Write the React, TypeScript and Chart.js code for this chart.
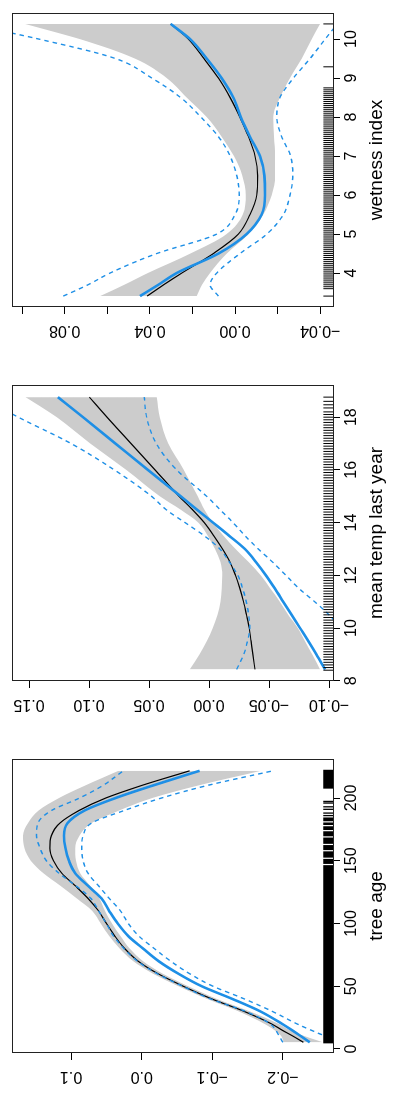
import React, { useEffect, useRef } from "react";
import { Chart, registerables } from "chart.js";

Chart.register(...registerables);

const FONT = "'Liberation Sans', Arial, Helvetica, sans-serif";
const BLUE = "#1E8FE6";
const GRAY = "#CCCCCC";

// ---------- panel 1: tree age ----------
const AGE = [5.3, 10, 15, 20, 30, 40, 50, 60, 70, 80, 90, 100, 110, 120, 130, 140, 150, 160, 170, 180, 190, 200, 210, 221.7];
const AGE_FIT = [-0.229, -0.215, -0.199, -0.184, -0.145, -0.099, -0.059, -0.023, 0.005, 0.024, 0.038, 0.05, 0.061, 0.076, 0.094, 0.113, 0.125, 0.13, 0.128, 0.116, 0.089, 0.051, 0.0, -0.068];
const AGE_HI = [-0.201, -0.198, -0.188, -0.174, -0.137, -0.092, -0.052, -0.016, 0.012, 0.031, 0.046, 0.058, 0.07, 0.092, 0.115, 0.139, 0.157, 0.166, 0.168, 0.161, 0.146, 0.117, 0.08, 0.033];
const AGE_LO = [-0.257, -0.232, -0.21, -0.194, -0.153, -0.106, -0.066, -0.03, -0.002, 0.017, 0.03, 0.042, 0.052, 0.06, 0.073, 0.087, 0.093, 0.094, 0.088, 0.071, 0.032, -0.015, -0.08, -0.169];
const AGE_BLUE = [-0.238, -0.226, -0.213, -0.199, -0.168, -0.128, -0.085, -0.052, -0.024, -0.002, 0.019, 0.034, 0.046, 0.057, 0.076, 0.094, 0.103, 0.108, 0.11, 0.105, 0.081, 0.037, -0.016, -0.082];
const AGE_BLUE_HI = [-0.2, -0.195, -0.19, -0.182, -0.147, -0.097, -0.058, -0.022, 0.006, 0.025, 0.04, 0.05, 0.061, 0.072, 0.093, 0.117, 0.135, 0.144, 0.149, 0.147, 0.128, 0.088, 0.055, 0.026];
const AGE_BLUE_LO = [-0.29, -0.262, -0.24, -0.22, -0.185, -0.145, -0.101, -0.068, -0.041, -0.018, 0.004, 0.019, 0.03, 0.046, 0.061, 0.076, 0.083, 0.085, 0.083, 0.071, 0.025, -0.028, -0.093, -0.186];
const AGE_RUG = [5, 6, 7, 8, 9, 10, 11, 12, 13, 14, 15, 16, 17, 18, 19, 20, 21, 22, 23, 24, 25, 26, 27, 28, 29, 30, 31, 32, 33, 34, 35, 36, 37, 38, 39, 40, 41, 42, 43, 44, 45, 46, 47, 48, 49, 50, 51, 52, 53, 54, 55, 56, 57, 58, 59, 60, 61, 62, 63, 64, 65, 66, 67, 68, 69, 70, 71, 72, 73, 74, 75, 76, 77, 78, 79, 80, 81, 82, 83, 84, 85, 86, 87, 88, 89, 90, 91, 92, 93, 94, 95, 96, 97, 98, 99, 100, 101, 102, 103, 104, 105, 106, 107, 108, 109, 110, 111, 112, 113, 114, 115, 116, 117, 118, 119, 120, 121, 122, 123, 124, 125, 126, 127, 128, 129, 130, 131, 132, 133, 134, 135, 136, 137, 138, 139, 140, 141, 142, 143, 144, 145, 146, 148, 149, 150, 151, 153, 154, 155, 156, 157, 159, 160, 161, 162, 164, 165, 166, 167, 168, 170, 171, 172, 173, 175, 176, 177, 179, 180, 182, 183, 184, 186, 188, 191, 193, 196, 197.3, 208, 209, 210, 211, 212, 213, 214, 215, 216, 217, 218, 219, 220, 221, 222];
const AGE_XTICKS = [0, 50, 100, 150, 200];
const AGE_XLABELS = ["0", "50", "100", "150", "200"];
const AGE_YTICKS = [-0.2, -0.1, 0, 0.1];
const AGE_YLABELS = ["\u22120.2", "\u22120.1", "0.0", "0.1"];

// ---------- panel 2: mean temp last year ----------
const TEMP = [8.43, 9, 9.5, 10, 10.5, 11, 11.5, 12, 12.5, 13, 13.5, 14, 14.5, 15, 16, 17, 18, 18.76];
const TEMP_FIT = [-0.0383, -0.0365, -0.035, -0.0335, -0.0312, -0.0287, -0.0257, -0.022, -0.0175, -0.0112, -0.004, 0.004, 0.014, 0.025, 0.045, 0.065, 0.085, 0.0997];
const TEMP_HI = [0.016, 0.008, 0.002, -0.003, -0.007, -0.0095, -0.0106, -0.011, -0.0095, -0.005, 0.001, 0.009, 0.024, 0.041, 0.069, 0.099, 0.127, 0.153];
const TEMP_LO = [-0.0925, -0.086, -0.08, -0.074, -0.066, -0.059, -0.051, -0.043, -0.033, -0.022, -0.012, -0.003, 0.004, 0.0094, 0.021, 0.034, 0.041, 0.0436];
const TEMP_BLUE = [-0.0967, -0.0895, -0.0828, -0.0758, -0.0688, -0.0618, -0.0548, -0.0474, -0.0392, -0.0298, -0.0168, -0.0033, 0.0103, 0.0237, 0.051, 0.078, 0.105, 0.126];
const TEMP_BLUE_HI = [-0.023, -0.029, -0.032, -0.034, -0.033, -0.031, -0.028, -0.024, -0.017, -0.009, 0.004, 0.02, 0.036, 0.048, 0.079, 0.115, 0.159, 0.19];
const TEMP_BLUE_LO = [-0.145, -0.132, -0.121, -0.11, -0.1, -0.088, -0.075, -0.064, -0.053, -0.041, -0.03, -0.02, -0.009, 0.002, 0.027, 0.044, 0.052, 0.054];
const TEMP_RUG = [8.4, 8.5, 8.6, 8.7, 8.8, 8.9, 9, 9.1, 9.2, 9.3, 9.4, 9.5, 9.6, 9.7, 9.8, 9.9, 10, 10.1, 10.2, 10.3, 10.4, 10.5, 10.6, 10.7, 10.8, 10.9, 11, 11.1, 11.2, 11.3, 11.4, 11.5, 11.6, 11.7, 11.8, 11.9, 12, 12.1, 12.2, 12.3, 12.4, 12.5, 12.6, 12.7, 12.8, 12.9, 13, 13.1, 13.2, 13.3, 13.4, 13.5, 13.6, 13.7, 13.8, 13.9, 14, 14.1, 14.2, 14.3, 14.4, 14.5, 14.6, 14.7, 14.8, 14.9, 15, 15.1, 15.2, 15.3, 15.4, 15.5, 15.6, 15.7, 15.8, 15.9, 16, 16.1, 16.2, 16.3, 16.4, 16.5, 16.6, 16.7, 16.8, 16.9, 17, 17.1, 17.2, 17.3, 17.4, 17.5, 17.6, 17.7, 17.8, 17.9, 18, 18.1, 18.2, 18.35, 18.47, 18.6, 18.76];
const TEMP_XTICKS = [8, 10, 12, 14, 16, 18];
const TEMP_XLABELS = ["8", "10", "12", "14", "16", "18"];
const TEMP_YTICKS = [-0.1, -0.05, 0, 0.05, 0.1, 0.15];
const TEMP_YLABELS = ["\u22120.10", "\u22120.05", "0.00", "0.05", "0.10", "0.15"];

// ---------- panel 3: wetness index ----------
const WET = [3.41, 3.7, 4, 4.5, 5, 5.5, 6, 6.5, 7, 7.5, 8, 8.5, 9, 9.5, 10, 10.39];
const WET_FIT = [0.0413, 0.0335, 0.025, 0.0102, -0.0016, -0.007, -0.0102, -0.0106, -0.0094, -0.0063, -0.0023, 0.0023, 0.0078, 0.0146, 0.0219, 0.0302];
const WET_HI = [0.0634, 0.052, 0.041, 0.021, 0.004, -0.0036, -0.005, -0.0034, 0.0005, 0.0063, 0.0133, 0.0227, 0.032, 0.047, 0.0728, 0.0986];
const WET_LO = [0.018, 0.0155, 0.0117, 0.0039, -0.0063, -0.0133, -0.0172, -0.0188, -0.0188, -0.0183, -0.018, -0.0211, -0.0258, -0.0313, -0.036, -0.0399];
const WET_BLUE = [0.0446, 0.036, 0.0274, 0.0078, -0.0055, -0.0125, -0.0141, -0.0138, -0.0117, -0.007, -0.0027, 0.0008, 0.0063, 0.0133, 0.0211, 0.0302];
const WET_BLUE_HI = [0.0806, 0.069, 0.0587, 0.0368, 0.0086, 0.0, -0.002, -0.0008, 0.0023, 0.0078, 0.016, 0.0255, 0.039, 0.056, 0.092, 0.125];
const WET_BLUE_LO = [0.0078, 0.0117, 0.0086, -0.0023, -0.0149, -0.0227, -0.0258, -0.0271, -0.0261, -0.0219, -0.0196, -0.0211, -0.0274, -0.0352, -0.0423, -0.048];
const WET_RUG = [3.41, 3.6, 3.65, 3.7, 3.75, 3.8, 3.85, 3.9, 3.95, 4, 4.05, 4.1, 4.15, 4.2, 4.25, 4.3, 4.35, 4.4, 4.45, 4.5, 4.55, 4.6, 4.65, 4.7, 4.75, 4.8, 4.85, 4.9, 4.95, 5, 5.05, 5.1, 5.15, 5.2, 5.25, 5.3, 5.35, 5.4, 5.45, 5.5, 5.55, 5.6, 5.65, 5.7, 5.75, 5.8, 5.85, 5.9, 5.95, 6, 6.05, 6.1, 6.15, 6.2, 6.25, 6.3, 6.35, 6.4, 6.45, 6.5, 6.55, 6.6, 6.65, 6.7, 6.75, 6.8, 6.85, 6.9, 6.95, 7, 7.05, 7.1, 7.15, 7.2, 7.25, 7.3, 7.35, 7.4, 7.45, 7.5, 7.55, 7.6, 7.65, 7.7, 7.75, 7.8, 7.85, 7.9, 7.95, 8, 8.05, 8.1, 8.15, 8.2, 8.25, 8.3, 8.35, 8.4, 8.45, 8.5, 8.55, 8.6, 8.65, 8.7, 8.75, 9.29, 10.39];
const WET_XTICKS = [4, 5, 6, 7, 8, 9, 10];
const WET_XLABELS = ["4", "5", "6", "7", "8", "9", "10"];
const WET_YTICKS = [-0.04, -0.02, 0, 0.02, 0.04, 0.06, 0.08, 0.1];
const WET_YLABELS = ["\u22120.04", "", "0.00", "", "0.04", "", "0.08", ""];

type Panel = {
  width: number;
  left: number;
  right: number;
  title: string;
  x: number[];
  fit: number[];
  hi: number[];
  lo: number[];
  blue: number[];
  blueHi: number[];
  blueLo: number[];
  rug: number[];
  rugWidth: number;
  xMin: number;
  xMax: number;
  yMin: number;
  yMax: number;
  xTicks: number[];
  xLabels: string[];
  yTicks: number[];
  yLabels: string[];
};

const PANELS: Panel[] = [
  {
    width: 373, left: 67, right: 12, title: "tree age",
    x: AGE, fit: AGE_FIT, hi: AGE_HI, lo: AGE_LO, blue: AGE_BLUE, blueHi: AGE_BLUE_HI, blueLo: AGE_BLUE_LO, rug: AGE_RUG, rugWidth: 1.3,
    xMin: -3.2, xMax: 231.1, yMin: -0.271, yMax: 0.1837,
    xTicks: AGE_XTICKS, xLabels: AGE_XLABELS, yTicks: AGE_YTICKS, yLabels: AGE_YLABELS,
  },
  {
    width: 374, left: 66, right: 12, title: "mean temp last year",
    x: TEMP, fit: TEMP_FIT, hi: TEMP_HI, lo: TEMP_LO, blue: TEMP_BLUE, blueHi: TEMP_BLUE_HI, blueLo: TEMP_BLUE_LO, rug: TEMP_RUG, rugWidth: 1,
    xMin: 7.99, xMax: 19.22, yMin: -0.1033, yMax: 0.1642,
    xTicks: TEMP_XTICKS, xLabels: TEMP_XLABELS, yTicks: TEMP_YTICKS, yLabels: TEMP_YLABELS,
  },
  {
    width: 373, left: 66, right: 13, title: "wetness index",
    x: WET, fit: WET_FIT, hi: WET_HI, lo: WET_LO, blue: WET_BLUE, blueHi: WET_BLUE_HI, blueLo: WET_BLUE_LO, rug: WET_RUG, rugWidth: 1,
    xMin: 3.13, xMax: 10.67, yMin: -0.046, yMax: 0.1047,
    xTicks: WET_XTICKS, xLabels: WET_XLABELS, yTicks: WET_YTICKS, yLabels: WET_YLABELS,
  },
];

function pts(xs: number[], ys: number[]) {
  return xs.map((x, i) => ({ x, y: ys[i] }));
}

function makeConfig(p: Panel): any {
  const tickGrid = {
    display: true,
    drawOnChartArea: false,
    drawTicks: true,
    tickLength: 7,
    tickColor: "#000",
    tickWidth: 1,
  };
  const rPlugin = {
    id: "rPanel",
    afterDatasetsDraw(chart: any) {
      const { ctx, chartArea: a, scales } = chart;
      const xs = scales.x;
      ctx.save();
      // rug
      ctx.strokeStyle = "#000";
      ctx.lineWidth = p.rugWidth;
      const len = 0.03 * (a.bottom - a.top);
      ctx.beginPath();
      for (const v of p.rug) {
        const px = xs.getPixelForValue(v);
        ctx.moveTo(px, a.bottom);
        ctx.lineTo(px, a.bottom - len);
      }
      ctx.stroke();
      // box
      ctx.strokeStyle = "#222";
      ctx.lineWidth = 1;
      ctx.strokeRect(a.left + 0.5, a.top + 0.5, a.right - a.left - 1, a.bottom - a.top);
      ctx.restore();
    },
    afterDraw(chart: any) {
      const { ctx, chartArea: a, scales } = chart;
      const ys = scales.y;
      ctx.save();
      ctx.fillStyle = "#000";
      ctx.font = `16px ${FONT}`;
      ctx.textAlign = "center";
      ctx.textBaseline = "middle";
      p.yTicks.forEach((v, i) => {
        const lab = p.yLabels[i];
        if (!lab) return;
        const py = ys.getPixelForValue(v);
        ctx.save();
        ctx.translate(a.left - 23, py);
        ctx.rotate(-Math.PI / 2);
        ctx.fillText(lab, 0, 0);
        ctx.restore();
      });
      ctx.restore();
    },
  };

  const lineBase = { pointRadius: 0, pointHoverRadius: 0, fill: false, cubicInterpolationMode: "monotone" };

  return {
    type: "line",
    data: {
      datasets: [
        { ...lineBase, data: pts(p.x, p.blue), borderColor: BLUE, borderWidth: 2.6 },
        { ...lineBase, data: pts(p.x, p.blueHi), borderColor: BLUE, borderWidth: 1.4, borderDash: [4.5, 4] },
        { ...lineBase, data: pts(p.x, p.blueLo), borderColor: BLUE, borderWidth: 1.4, borderDash: [4.5, 4] },
        { ...lineBase, data: pts(p.x, p.fit), borderColor: "#000", borderWidth: 1.2 },
        { ...lineBase, data: pts(p.x, p.hi), borderColor: "rgba(0,0,0,0)", borderWidth: 0.01, fill: "+1", backgroundColor: GRAY },
        { ...lineBase, data: pts(p.x, p.lo), borderColor: "rgba(0,0,0,0)", borderWidth: 0.01 },
      ],
    },
    options: {
      animation: false,
      responsive: false,
      devicePixelRatio: 1,
      events: [],
      layout: { padding: { top: 12, right: p.right, left: 0, bottom: 0 } },
      plugins: {
        legend: { display: false },
        tooltip: { enabled: false },
        filler: { drawTime: "beforeDatasetsDraw" },
      },
      scales: {
        x: {
          type: "linear",
          position: "bottom",
          min: p.xMin,
          max: p.xMax,
          afterBuildTicks: (s: any) => {
            s.ticks = p.xTicks.map((v) => ({ value: v }));
          },
          afterFit: (s: any) => {
            s.height = 67;
          },
          grid: tickGrid,
          border: { display: false },
          ticks: {
            color: "#000",
            font: { family: FONT, size: 16 },
            padding: 2,
            minRotation: 0,
            maxRotation: 0,
            autoSkip: false,
            callback: (_v: any, i: number) => p.xLabels[i],
          },
          title: {
            display: true,
            text: p.title,
            color: "#000",
            font: { family: FONT, size: 19 },
            padding: { top: 0, bottom: 12 },
          },
        },
        y: {
          type: "linear",
          position: "left",
          min: p.yMin,
          max: p.yMax,
          afterBuildTicks: (s: any) => {
            s.ticks = p.yTicks.map((v) => ({ value: v }));
          },
          afterFit: (s: any) => {
            s.width = p.left;
          },
          grid: tickGrid,
          border: { display: false },
          ticks: { display: false },
        },
      },
    },
    plugins: [rPlugin],
  };
}

function PanelChart({ p }: { p: Panel }) {
  const ref = useRef<HTMLCanvasElement>(null);
  useEffect(() => {
    if (!ref.current) return;
    const chart = new Chart(ref.current, makeConfig(p));
    return () => chart.destroy();
  }, [p]);
  return (
    <canvas
      ref={ref}
      width={p.width}
      height={400}
      style={{ display: "block", width: p.width, height: 400 }}
    />
  );
}

export default function App() {
  return (
    <div
      style={{
        position: "fixed",
        left: 0,
        top: 0,
        width: 1120,
        height: 400,
        display: "flex",
        background: "#fff",
        transformOrigin: "0 0",
        transform: "translateY(1120px) rotate(-90deg)",
      }}
    >
      {PANELS.map((p) => (
        <PanelChart key={p.title} p={p} />
      ))}
    </div>
  );
}
